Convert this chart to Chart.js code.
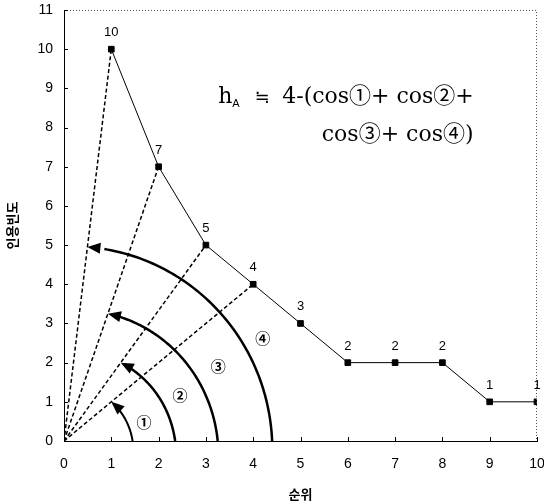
<!DOCTYPE html>
<html>
<head>
<meta charset="utf-8">
<script src="https://cdn.jsdelivr.net/npm/chart.js@4.4.0/dist/chart.umd.min.js"></script>
<style>
  html, body { margin: 0; padding: 0; background: #fff; }
  #wrap { width: 544px; height: 502px; }
</style>
</head>
<body>
<div id="wrap"><canvas id="chart"></canvas></div>
<script>
// rank (순위) vs citation count (인용빈도)
const ranks = [1, 2, 3, 4, 5, 6, 7, 8, 9, 10]
const freqs = [10, 7, 5, 4, 3, 2, 2, 2, 1, 1]
const xTicks = [0, 1, 2, 3, 4, 5, 6, 7, 8, 9, 10]
const yTicks = [0, 1, 2, 3, 4, 5, 6, 7, 8, 9, 10, 11]

// dashed rays from the origin to the first four points
const rayRanks = [1, 2, 3, 4]

// angle arcs: where each starts on the x axis, which ray it stops on, and how high
const arcStartX = [1.45, 2.35, 3.25, 4.4]
const arcRayRank = [4, 3, 2, 1]
const arcEndY = [1.0, 2.0, 3.25, 4.95]
const arcLabels = ['①', '②', '③', '④']
const arcLabelX = [1.69, 2.45, 3.26, 4.2]
const arcLabelY = [0.48, 1.17, 1.91, 2.63]

// formula text
const formulaLine1 = '4-(cos①+ cos②+'
const formulaLine2 = 'cos③+ cos④)'

const ink = '#000'
const pairs = ranks.map((r, i) => ({ x: r, y: freqs[i] }))

const rayDatasets = rayRanks.map(r => ({
  data: [{ x: 0, y: 0 }, { x: r, y: freqs[ranks.indexOf(r)] }],
  borderColor: ink,
  borderWidth: 1.5,
  borderDash: [4, 2.5],
  pointRadius: 0,
  fill: false
}))

// extra drawing: labels, arcs, ticks, frame, formula
const extras = {
  id: 'extras',
  afterDatasetsDraw(chart) {
    const { ctx, chartArea: a, scales: { x, y } } = chart
    ctx.save()

    // dotted top/right frame
    ctx.strokeStyle = '#555'
    ctx.lineWidth = 1
    ctx.setLineDash([1, 2])
    ctx.beginPath()
    ctx.moveTo(a.left, a.top + 0.5)
    ctx.lineTo(a.right - 0.5, a.top + 0.5)
    ctx.lineTo(a.right - 0.5, a.bottom)
    ctx.stroke()
    ctx.setLineDash([])

    // inward tick marks
    ctx.strokeStyle = ink
    ctx.beginPath()
    xTicks.forEach(v => {
      const px = Math.round(x.getPixelForValue(v)) + 0.5
      ctx.moveTo(px, a.bottom)
      ctx.lineTo(px, a.bottom - 4)
    })
    yTicks.forEach(v => {
      const py = Math.round(y.getPixelForValue(v)) + 0.5
      ctx.moveTo(a.left, py)
      ctx.lineTo(a.left + 4, py)
    })
    ctx.stroke()

    // value labels above the points
    ctx.fillStyle = ink
    ctx.font = '13px "Liberation Sans", Arial, sans-serif'
    ctx.textAlign = 'center'
    ctx.textBaseline = 'alphabetic'
    pairs.forEach(p => {
      ctx.fillText(String(p.y), x.getPixelForValue(p.x), y.getPixelForValue(p.y) - 13)
    })

    // arcs with arrowheads
    const ox = x.getPixelForValue(0), oy = y.getPixelForValue(0)
    arcStartX.forEach((sx, i) => {
      const rr = arcRayRank[i]
      const rf = freqs[ranks.indexOf(rr)]
      const ey = arcEndY[i]
      const ex = ey * rr / rf
      const r0 = x.getPixelForValue(sx) - ox
      const dx = x.getPixelForValue(ex) - ox
      const dy = oy - y.getPixelForValue(ey)
      const r1 = Math.hypot(dx, dy)
      const th = Math.atan2(dy, dx)
      const at = t => {
        const ang = t * th, r = r0 + (r1 - r0) * t
        return [ox + r * Math.cos(ang), oy - r * Math.sin(ang)]
      }
      ctx.lineWidth = i ? 2.5 : 2
      ctx.beginPath()
      const n = 80, stop = 0.94
      for (let k = 0; k <= n; k++) {
        const [px, py] = at(k / n * stop)
        k ? ctx.lineTo(px, py) : ctx.moveTo(px, py)
      }
      ctx.stroke()
      // arrowhead
      const [tx, ty] = at(1)
      const [bx, by] = at(0.97)
      let ux = tx - bx, uy = ty - by
      const len = Math.hypot(ux, uy)
      ux /= len; uy /= len
      const L = 13, W = 5.5
      ctx.beginPath()
      ctx.moveTo(tx, ty)
      ctx.lineTo(tx - ux * L - uy * W, ty - uy * L + ux * W)
      ctx.lineTo(tx - ux * L + uy * W, ty - uy * L - ux * W)
      ctx.closePath()
      ctx.fill()

      // circled number
      ctx.font = 'bold 15px "Noto Sans CJK KR", "DejaVu Sans", sans-serif'
      ctx.textAlign = 'center'
      ctx.textBaseline = 'middle'
      ctx.fillText(arcLabels[i], x.getPixelForValue(arcLabelX[i]), y.getPixelForValue(arcLabelY[i]))
    })

    // formula
    const fx = x.getPixelForValue(3.26), fy = y.getPixelForValue(8.63)
    const serif = '22px "DejaVu Serif", "Noto Sans CJK KR", serif'
    ctx.textAlign = 'left'
    ctx.textBaseline = 'alphabetic'
    ctx.font = serif
    ctx.fillText('h', fx, fy)
    ctx.font = '11px "Liberation Sans", Arial, sans-serif'
    ctx.fillText('A', fx + 14, fy + 4)
    ctx.font = '18px "DejaVu Sans", sans-serif'
    ctx.textAlign = 'center'
    ctx.fillText('≒', fx + 44, fy)
    ctx.textAlign = 'left'
    ctx.font = serif
    ctx.fillText(formulaLine1, fx + 64, fy)
    ctx.fillText(formulaLine2, x.getPixelForValue(5.45), y.getPixelForValue(7.66))

    ctx.restore()
  }
}

new Chart(document.querySelector('#chart').getContext('2d'), {
  type: 'line',
  data: {
    datasets: [{
      data: pairs,
      borderColor: ink,
      backgroundColor: ink,
      borderWidth: 1,
      pointStyle: 'rect',
      pointRadius: 4,
      pointHoverRadius: 4,
      fill: false
    }].concat(rayDatasets)
  },
  options: {
    responsive: true,
    maintainAspectRatio: false,
    animation: false,
    layout: { padding: { top: 10, right: 7, left: 0, bottom: 0 }, autoPadding: false },
    plugins: { legend: { display: false }, tooltip: { enabled: false } },
    scales: {
      x: {
        type: 'linear',
        min: 0,
        max: 10,
        afterFit: s => { s.height = 61; s.paddingRight = 0; s.paddingLeft = 0 },
        afterBuildTicks: s => { s.ticks = xTicks.map(v => ({ value: v })) },
        grid: { display: false, drawTicks: false },
        border: { display: true, color: ink, width: 1 },
        ticks: { color: ink, padding: 15, font: { size: 14, family: '"Liberation Sans", Arial, sans-serif' } },
        title: {
          display: true,
          text: '순위',
          color: ink,
          padding: { top: 0, bottom: 0 },
          font: { size: 13, weight: 'bold', family: '"Noto Sans CJK KR", sans-serif' }
        }
      },
      y: {
        min: 0,
        max: 11,
        afterFit: s => { s.width = 64; s.paddingTop = 0; s.paddingBottom = 0 },
        afterBuildTicks: s => { s.ticks = yTicks.map(v => ({ value: v })) },
        grid: { display: false, drawTicks: false },
        border: { display: true, color: ink, width: 1 },
        ticks: { color: ink, padding: 11, font: { size: 14, family: '"Liberation Sans", Arial, sans-serif' } },
        title: {
          display: true,
          text: '인용빈도',
          color: ink,
          padding: { top: 4, bottom: 0 },
          font: { size: 13, weight: 'bold', family: '"Noto Sans CJK KR", sans-serif' }
        }
      }
    }
  },
  plugins: [extras]
})
</script>
</body>
</html>
